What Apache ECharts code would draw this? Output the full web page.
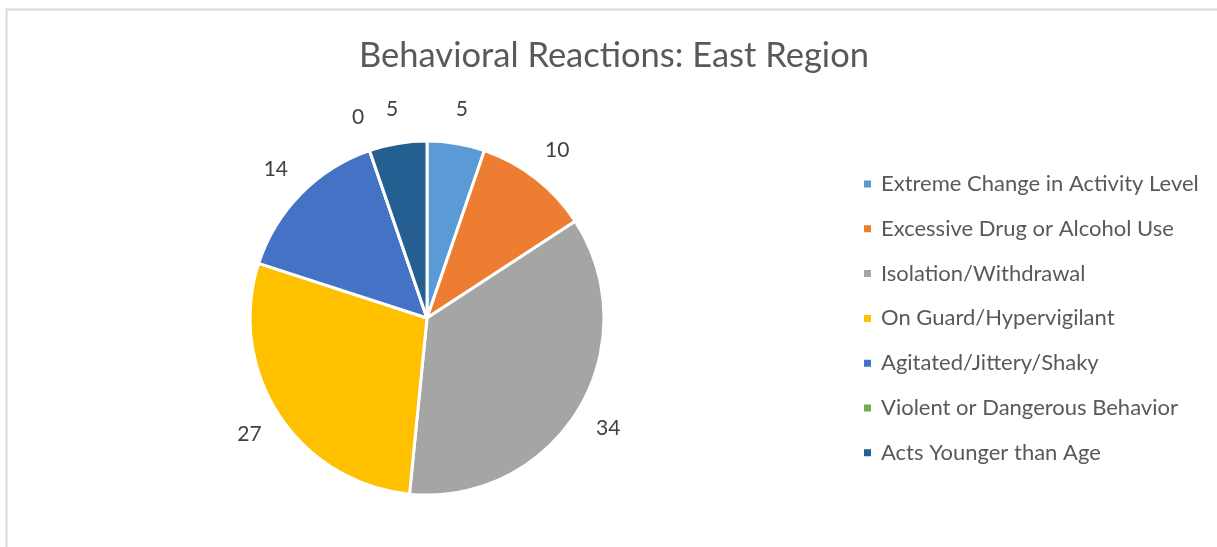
<!DOCTYPE html>
<html>
<head>
<meta charset="utf-8">
<script src="https://cdn.jsdelivr.net/npm/echarts@6/dist/echarts.min.js"></script>
<style>
  html, body { margin: 0; padding: 0; background: #fff; }
  #chart { width: 1217px; height: 547px; }
</style>
</head>
<body>
<div id="chart"></div>
<script>
// data
const categories = [
  'Extreme Change in Activity Level',
  'Excessive Drug or Alcohol Use',
  'Isolation/Withdrawal',
  'On Guard/Hypervigilant',
  'Agitated/Jittery/Shaky',
  'Violent or Dangerous Behavior',
  'Acts Younger than Age'
]
const counts = [5, 10, 34, 27, 14, 0, 5]
const colors = ['#5B9BD5', '#ED7D31', '#A5A5A5', '#FFC000', '#4472C4', '#70AD47', '#255E91']

const center = [427, 318]
const radius = 177
const labelRadius = 209

let myChart = echarts.init(document.getElementById('chart'))

let pieData = categories.map((name, i) => ({ name, value: counts[i] }))
let labelData = categories.map((name, i) => ({
  name, value: counts[i], itemStyle: { color: 'transparent', borderWidth: 0 }
}))

myChart.setOption({
  backgroundColor: '#fff',
  animation: false,
  color: colors,
  title: {
    text: 'Behavioral Reactions: East Region',
    left: 609,
    top: 33,
    textAlign: 'center',
    textStyle: {
      fontFamily: 'Lato',
      fontWeight: 'normal',
      fontSize: 34.5,
      color: '#595959'
    }
  },
  legend: {
    orient: 'vertical',
    left: 862,
    top: 173,
    padding: 0,
    icon: 'rect',
    itemWidth: 9,
    itemHeight: 9,
    itemGap: 22.8,
    data: categories,
    selectedMode: false,
    textStyle: {
      fontFamily: 'Lato',
      fontSize: 22,
      lineHeight: 22,
      color: '#595959',
      padding: [0, 0, 0, 4]
    }
  },
  graphic: [{
    type: 'rect',
    shape: { x: 6.5, y: 9.5, width: 1300, height: 600 },
    style: { fill: 'none', stroke: '#d9d9d9', lineWidth: 2 },
    silent: true
  }],
  series: [{
    type: 'pie',
    center: center,
    radius: radius,
    startAngle: 90,
    clockwise: true,
    silent: true,
    data: pieData,
    label: { show: false },
    labelLine: { show: false },
    itemStyle: { borderColor: '#fff', borderWidth: 3 }
  }, {
    // invisible twin used only to place the value labels centred outside the pie
    type: 'pie',
    center: center,
    radius: [0, labelRadius * 2],
    startAngle: 90,
    clockwise: true,
    silent: true,
    z: 1,
    data: labelData,
    label: {
      show: true,
      position: 'inside',
      formatter: '{c}',
      fontFamily: 'Lato',
      fontSize: 21,
      color: '#404040'
    },
    labelLine: { show: false },
    emphasis: { disabled: true }
  }]
})
</script>
</body>
</html>
